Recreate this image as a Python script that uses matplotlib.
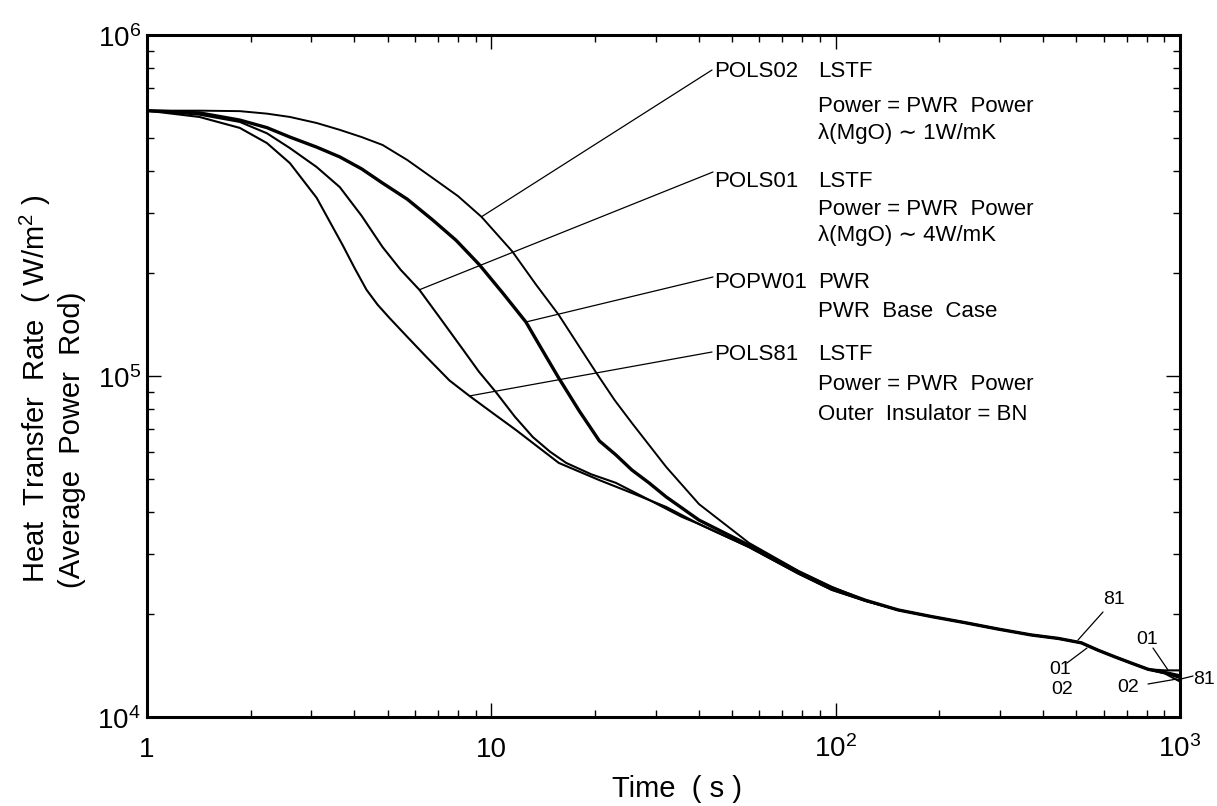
import numpy as np
import matplotlib
matplotlib.use("Agg")
import matplotlib.pyplot as plt
from matplotlib import font_manager
from matplotlib.transforms import offset_copy

# Data (time in s, heat transfer rate in W/m2)

t_pols81 = [1, 1.42, 1.86, 2.23, 2.60, 3.11, 3.70, 4.01, 4.34, 4.67, 5.06,
            5.67, 6.48, 7.56, 8.64, 10.0, 11.8, 15.7, 20.6, 26.0, 32.2,
            40.1, 56.0, 78.1, 97.4, 122, 152, 190, 238, 297, 370, 443, 517,
            578, 648, 721, 808, 905, 1000]
q_pols81 = [6.0e5, 5.75e5, 5.34e5, 4.82e5, 4.21e5, 3.33e5, 2.42e5, 2.07e5,
            1.79e5, 1.62e5, 1.48e5, 1.31e5, 1.137e5, 9.7e4, 8.74e4, 7.84e4,
            6.94e4, 5.56e4, 4.95e4, 4.51e4, 4.13e4, 3.68e4, 3.15e4, 2.63e4,
            2.36e4, 2.19e4, 2.06e4, 1.97e4, 1.89e4, 1.81e4, 1.74e4, 1.70e4,
            1.65e4, 1.57e4, 1.50e4, 1.44e4, 1.38e4, 1.346e4, 1.30e4]

t_pols01 = [1, 1.42, 1.86, 2.23, 2.60, 3.11, 3.63, 4.20, 4.83, 5.45, 6.18,
            7.2, 8.3, 9.2, 10.3, 11.7, 13.2, 14.8, 16.5, 19.5, 23.0, 28.5,
            35.8, 40.1, 56.0, 78.1, 97.4, 122, 152, 190, 238, 297, 370, 443,
            517, 578, 648, 721, 808, 905, 1000]
q_pols01 = [6.0e5, 5.84e5, 5.56e5, 5.15e5, 4.66e5, 4.10e5, 3.58e5, 2.95e5,
            2.39e5, 2.05e5, 1.79e5, 1.45e5, 1.19e5, 1.03e5, 8.98e4, 7.6e4,
            6.62e4, 6.0e4, 5.56e4, 5.15e4, 4.86e4, 4.35e4, 3.86e4, 3.68e4,
            3.15e4, 2.63e4, 2.36e4, 2.19e4, 2.06e4, 1.97e4, 1.89e4, 1.81e4,
            1.74e4, 1.70e4, 1.65e4, 1.57e4, 1.50e4, 1.44e4, 1.38e4, 1.37e4,
            1.37e4]

t_popw01 = [1, 1.42, 1.86, 2.23, 2.60, 3.11, 3.63, 4.20, 4.83, 5.7, 6.75,
            7.9, 9.23, 10.8, 12.6, 14.0, 15.7, 18.0, 20.6, 23.0, 25.6, 28.7,
            32.2, 40.1, 56.0, 78.1, 97.4, 122, 152, 190, 238, 297, 370, 443,
            517, 578, 648, 721, 808, 905, 1000]
q_popw01 = [6.0e5, 5.91e5, 5.63e5, 5.35e5, 5.02e5, 4.69e5, 4.39e5, 4.05e5,
            3.68e5, 3.30e5, 2.87e5, 2.50e5, 2.12e5, 1.75e5, 1.44e5, 1.20e5,
            9.86e4, 7.9e4, 6.45e4, 5.87e4, 5.30e4, 4.86e4, 4.42e4, 3.78e4,
            3.19e4, 2.66e4, 2.39e4, 2.20e4, 2.06e4, 1.97e4, 1.89e4, 1.81e4,
            1.74e4, 1.70e4, 1.65e4, 1.57e4, 1.50e4, 1.44e4, 1.38e4, 1.35e4,
            1.32e4]

t_pols02 = [1, 1.42, 1.86, 2.23, 2.60, 3.11, 3.63, 4.20, 4.83, 5.7, 6.75,
            8.0, 9.36, 11.5, 13.5, 15.7, 18.0, 20.2, 22.8, 25.6, 32.2, 40.1,
            56.0, 78.1, 97.4, 122, 152, 190, 238, 297, 370, 443, 517, 578,
            648, 721, 808, 905, 1000]
q_pols02 = [6.0e5, 6.0e5, 5.98e5, 5.88e5, 5.75e5, 5.52e5, 5.27e5, 5.02e5,
            4.76e5, 4.30e5, 3.81e5, 3.37e5, 2.93e5, 2.32e5, 1.85e5, 1.51e5,
            1.22e5, 1.02e5, 8.5e4, 7.28e4, 5.41e4, 4.21e4, 3.24e4, 2.68e4,
            2.41e4, 2.20e4, 2.06e4, 1.97e4, 1.89e4, 1.81e4, 1.74e4, 1.70e4,
            1.65e4, 1.57e4, 1.50e4, 1.44e4, 1.38e4, 1.34e4, 1.27e4]

x_ticks = [1, 10, 100, 1000]
x_tick_labels = ["1", "10", r"$10^2$", r"$10^3$"]
y_ticks = [1e4, 1e5, 1e6]
y_tick_labels = [r"$10^4$", r"$10^5$", r"$10^6$"]


# Fonts (a narrow face if one is installed)

names = {f.name for f in font_manager.fontManager.ttflist}
FONT = "Liberation Sans"
for cand in ["Liberation Sans Narrow", "DejaVu Sans Condensed"]:
    if cand in names:
        FONT = cand
        break

plt.rcParams["font.family"] = [FONT, "DejaVu Sans"]
plt.rcParams["mathtext.fontset"] = "custom"
plt.rcParams["mathtext.rm"] = FONT
plt.rcParams["mathtext.it"] = FONT
plt.rcParams["mathtext.bf"] = FONT


# Figure

W, H = 1217, 806

fig = plt.figure(figsize=(W / 100, H / 100), dpi=100)

ax = fig.add_axes([147 / W, 1 - 717 / H, (1180 - 147) / W, (717 - 35) / H])


def px(x, y):
    # image pixel (from top-left) -> figure pixels
    return (x, H - y)


ax.plot(t_pols81, q_pols81, color="black", lw=1.5, solid_joinstyle="round")
ax.plot(t_pols01, q_pols01, color="black", lw=1.5, solid_joinstyle="round")
ax.plot(t_popw01, q_popw01, color="black", lw=2.4, solid_joinstyle="round")
ax.plot(t_pols02, q_pols02, color="black", lw=1.4, solid_joinstyle="round")

ax.set_xscale("log")
ax.set_yscale("log")
ax.set_xlim(1, 1000)
ax.set_ylim(1e4, 1e6)

ax.tick_params(which="both", direction="in", top=True, right=True,
               labelbottom=False, labelleft=False, width=1.0)
ax.tick_params(which="major", length=10)
ax.tick_params(which="minor", length=5)

for s in ax.spines.values():
    s.set_linewidth(2.2)


# Tick labels

xlab_tr = offset_copy(ax.get_xaxis_transform(), fig=fig, y=-40, units="dots")
for t, lab in zip(x_ticks, x_tick_labels):
    ax.text(t, 0, lab, transform=xlab_tr, ha="center", va="baseline",
            fontsize=20, clip_on=False)

ylab_tr = offset_copy(ax.get_yaxis_transform(), fig=fig, x=-6, y=-12, units="dots")
for q, lab in zip(y_ticks, y_tick_labels):
    ax.text(0, q, lab, transform=ylab_tr, ha="right", va="baseline",
            fontsize=20, clip_on=False)


# Axis titles

fig.text(677 / W, 1 - 797 / H, "Time  ( s )", ha="center", va="baseline",
         fontsize=21)

fig.text(45 / W, 1 - 583 / H, r"Heat  Transfer  Rate  ( W/m$^2$ )",
         rotation=90, rotation_mode="anchor", ha="left", va="baseline",
         fontsize=21)
fig.text(80 / W, 1 - 588 / H, "(Average  Power  Rod)",
         rotation=90, rotation_mode="anchor", ha="left", va="baseline",
         fontsize=21)


# Case labels with leader lines

def on_curve(t0, t, q):
    return 10 ** np.interp(np.log10(t0), np.log10(t), np.log10(q))


leaders = [
    (9.36, t_pols02, q_pols02, (712, 70)),
    (6.18, t_pols01, q_pols01, (713, 172)),
    (12.6, t_popw01, q_popw01, (713, 277)),
    (8.64, t_pols81, q_pols81, (712, 352)),
]

for t0, t, q, end in leaders:
    ax.annotate("", xy=(t0, on_curve(t0, t, q)), xycoords="data",
                xytext=px(*end), textcoords="figure pixels",
                arrowprops=dict(arrowstyle="-", lw=0.9, color="black",
                                shrinkA=0, shrinkB=0))

label_blocks = [
    ("POLS02", [(77, "LSTF"), (112, "Power = PWR  Power"), (139, "λ(MgO) ∼ 1W/mK")]),
    ("POLS01", [(187, "LSTF"), (215, "Power = PWR  Power"), (241, "λ(MgO) ∼ 4W/mK")]),
    ("POPW01", [(288, "PWR"), (317, "PWR  Base  Case")]),
    ("POLS81", [(360, "LSTF"), (390, "Power = PWR  Power"), (420, "Outer  Insulator = BN")]),
]

for name, lines in label_blocks:
    y0 = lines[0][0]
    fig.text(714 / W, 1 - y0 / H, name, ha="left", va="baseline", fontsize=16)
    for y, s in lines:
        fig.text(818 / W, 1 - y / H, s, ha="left", va="baseline", fontsize=16)


# Small run labels at the tail

tail_labels = [
    ("81", (1114, 600)),
    ("01", (1060, 670)),
    ("02", (1062, 689)),
    ("01", (1147, 640)),
    ("02", (1128, 688)),
    ("81", (1204, 679)),
]

for s, (x, y) in tail_labels:
    fig.text(x / W, 1 - y / H, s, ha="center", va="center", fontsize=14)

tail_leaders = [
    ((1103, 612), (1078, 640)),
    ((1067, 663), (1087, 648)),
    ((1153, 648), (1168, 670)),
    ((1148, 684), (1177, 679)),
    ((1193, 676), (1177, 680)),
]

for a, b in tail_leaders:
    ax.annotate("", xy=px(*b), xycoords="figure pixels",
                xytext=px(*a), textcoords="figure pixels",
                arrowprops=dict(arrowstyle="-", lw=0.9, color="black",
                                shrinkA=0, shrinkB=0),
                annotation_clip=False)


plt.savefig("out.png", dpi=100)
